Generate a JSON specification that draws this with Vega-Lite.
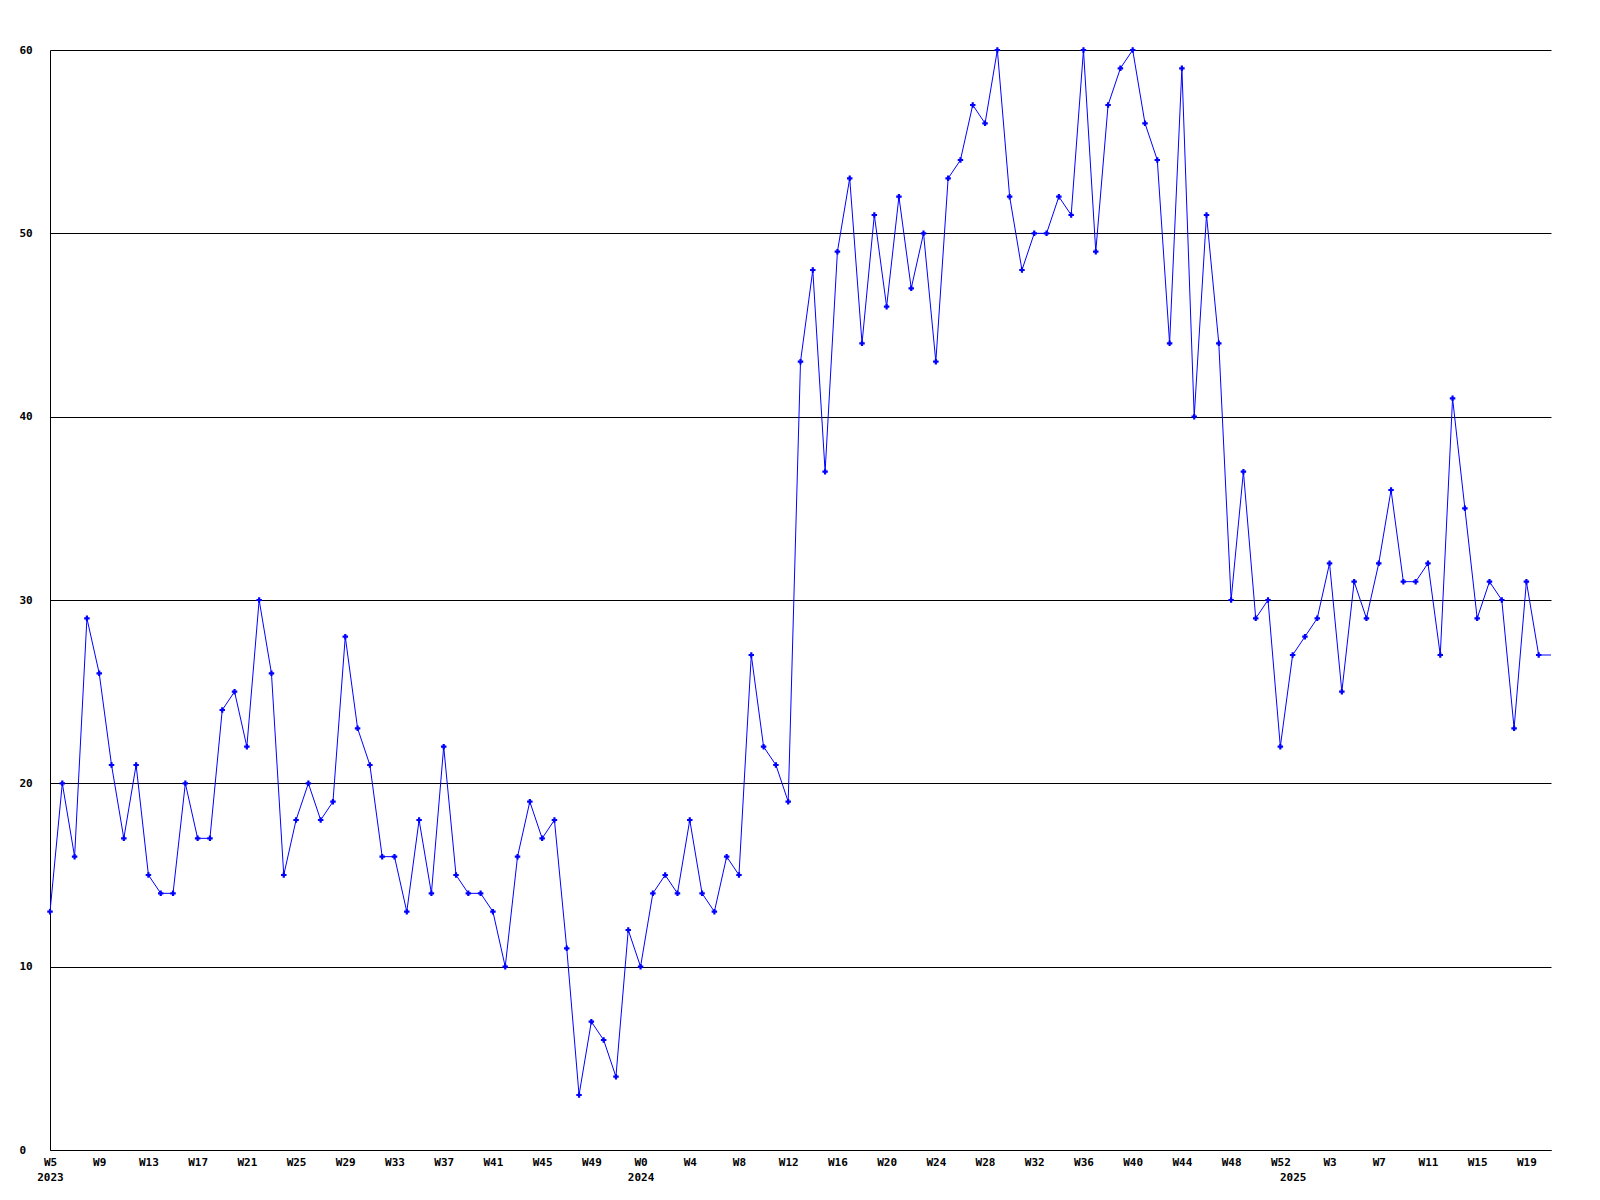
{
  "$schema": "https://vega.github.io/schema/vega-lite/v6.json",
  "width": 1501,
  "height": 1100,
  "autosize": {"type": "none"},
  "padding": {"left": 50, "top": 50, "right": 49, "bottom": 50},
  "background": "white",
  "config": {"view": {"stroke": null}, "font": "DejaVu Sans Mono"},
  "data": {
    "values": [
      {"k": "2023-W5", "v": 13}, {"k": "2023-W6", "v": 20}, {"k": "2023-W7", "v": 16}, {"k": "2023-W8", "v": 29},
      {"k": "2023-W9", "v": 26}, {"k": "2023-W10", "v": 21}, {"k": "2023-W11", "v": 17}, {"k": "2023-W12", "v": 21},
      {"k": "2023-W13", "v": 15}, {"k": "2023-W14", "v": 14}, {"k": "2023-W15", "v": 14}, {"k": "2023-W16", "v": 20},
      {"k": "2023-W17", "v": 17}, {"k": "2023-W18", "v": 17}, {"k": "2023-W19", "v": 24}, {"k": "2023-W20", "v": 25},
      {"k": "2023-W21", "v": 22}, {"k": "2023-W22", "v": 30}, {"k": "2023-W23", "v": 26}, {"k": "2023-W24", "v": 15},
      {"k": "2023-W25", "v": 18}, {"k": "2023-W26", "v": 20}, {"k": "2023-W27", "v": 18}, {"k": "2023-W28", "v": 19},
      {"k": "2023-W29", "v": 28}, {"k": "2023-W30", "v": 23}, {"k": "2023-W31", "v": 21}, {"k": "2023-W32", "v": 16},
      {"k": "2023-W33", "v": 16}, {"k": "2023-W34", "v": 13}, {"k": "2023-W35", "v": 18}, {"k": "2023-W36", "v": 14},
      {"k": "2023-W37", "v": 22}, {"k": "2023-W38", "v": 15}, {"k": "2023-W39", "v": 14}, {"k": "2023-W40", "v": 14},
      {"k": "2023-W41", "v": 13}, {"k": "2023-W42", "v": 10}, {"k": "2023-W43", "v": 16}, {"k": "2023-W44", "v": 19},
      {"k": "2023-W45", "v": 17}, {"k": "2023-W46", "v": 18}, {"k": "2023-W47", "v": 11}, {"k": "2023-W48", "v": 3},
      {"k": "2023-W49", "v": 7}, {"k": "2023-W50", "v": 6}, {"k": "2023-W51", "v": 4}, {"k": "2023-W52", "v": 12},
      {"k": "2024-W0", "v": 10}, {"k": "2024-W1", "v": 14}, {"k": "2024-W2", "v": 15}, {"k": "2024-W3", "v": 14},
      {"k": "2024-W4", "v": 18}, {"k": "2024-W5", "v": 14}, {"k": "2024-W6", "v": 13}, {"k": "2024-W7", "v": 16},
      {"k": "2024-W8", "v": 15}, {"k": "2024-W9", "v": 27}, {"k": "2024-W10", "v": 22}, {"k": "2024-W11", "v": 21},
      {"k": "2024-W12", "v": 19}, {"k": "2024-W13", "v": 43}, {"k": "2024-W14", "v": 48}, {"k": "2024-W15", "v": 37},
      {"k": "2024-W16", "v": 49}, {"k": "2024-W17", "v": 53}, {"k": "2024-W18", "v": 44}, {"k": "2024-W19", "v": 51},
      {"k": "2024-W20", "v": 46}, {"k": "2024-W21", "v": 52}, {"k": "2024-W22", "v": 47}, {"k": "2024-W23", "v": 50},
      {"k": "2024-W24", "v": 43}, {"k": "2024-W25", "v": 53}, {"k": "2024-W26", "v": 54}, {"k": "2024-W27", "v": 57},
      {"k": "2024-W28", "v": 56}, {"k": "2024-W29", "v": 60}, {"k": "2024-W30", "v": 52}, {"k": "2024-W31", "v": 48},
      {"k": "2024-W32", "v": 50}, {"k": "2024-W33", "v": 50}, {"k": "2024-W34", "v": 52}, {"k": "2024-W35", "v": 51},
      {"k": "2024-W36", "v": 60}, {"k": "2024-W37", "v": 49}, {"k": "2024-W38", "v": 57}, {"k": "2024-W39", "v": 59},
      {"k": "2024-W40", "v": 60}, {"k": "2024-W41", "v": 56}, {"k": "2024-W42", "v": 54}, {"k": "2024-W43", "v": 44},
      {"k": "2024-W44", "v": 59}, {"k": "2024-W45", "v": 40}, {"k": "2024-W46", "v": 51}, {"k": "2024-W47", "v": 44},
      {"k": "2024-W48", "v": 30}, {"k": "2024-W49", "v": 37}, {"k": "2024-W50", "v": 29}, {"k": "2024-W51", "v": 30},
      {"k": "2024-W52", "v": 22},
      {"k": "2025-W0", "v": 27}, {"k": "2025-W1", "v": 28}, {"k": "2025-W2", "v": 29}, {"k": "2025-W3", "v": 32},
      {"k": "2025-W4", "v": 25}, {"k": "2025-W5", "v": 31}, {"k": "2025-W6", "v": 29}, {"k": "2025-W7", "v": 32},
      {"k": "2025-W8", "v": 36}, {"k": "2025-W9", "v": 31}, {"k": "2025-W10", "v": 31}, {"k": "2025-W11", "v": 32},
      {"k": "2025-W12", "v": 27}, {"k": "2025-W13", "v": 41}, {"k": "2025-W14", "v": 35}, {"k": "2025-W15", "v": 29},
      {"k": "2025-W16", "v": 31}, {"k": "2025-W17", "v": 30}, {"k": "2025-W18", "v": 23}, {"k": "2025-W19", "v": 31},
      {"k": "2025-W20", "v": 27}, {"k": "2025-W21", "v": 27}
    ]
  },
  "encoding": {
    "x": {
      "field": "k",
      "type": "ordinal",
      "sort": null,
      "scale": {"type": "point", "padding": 0},
      "axis": {
        "title": null,
        "values": ["2023-W5", "2023-W9", "2023-W13", "2023-W17", "2023-W21", "2023-W25", "2023-W29", "2023-W33", "2023-W37", "2023-W41", "2023-W45", "2023-W49",
                   "2024-W0", "2024-W4", "2024-W8", "2024-W12", "2024-W16", "2024-W20", "2024-W24", "2024-W28", "2024-W32", "2024-W36", "2024-W40", "2024-W44", "2024-W48", "2024-W52",
                   "2025-W0", "2025-W3", "2025-W7", "2025-W11", "2025-W15", "2025-W19"],
        "labelExpr": "datum.value == '2023-W5' ? ['W5', '2023'] : datum.value == '2024-W0' ? ['W0', '2024'] : datum.value == '2025-W0' ? [' ', '2025'] : split(datum.value, '-')[1]",
        "labelAngle": 0,
        "labelAlign": "center",
        "labelBaseline": "top",
        "labelPadding": 6,
        "labelLineHeight": 15,
        "labelFont": "DejaVu Sans Mono",
        "labelFontWeight": "bold",
        "labelFontSize": 11,
        "labelColor": "black",
        "labelOverlap": false,
        "labelBound": false,
        "labelFlush": false,
        "ticks": false,
        "tickSize": 0,
        "grid": false,
        "domainColor": "black",
        "domainWidth": 1
      }
    },
    "y": {
      "field": "v",
      "type": "quantitative",
      "scale": {"domain": [0, 60], "nice": false, "zero": true},
      "axis": {
        "title": null,
        "values": [0, 10, 20, 30, 40, 50, 60],
        "grid": true,
        "gridColor": "black",
        "gridOpacity": 1,
        "gridWidth": 1,
        "domainColor": "black",
        "domainWidth": 1,
        "ticks": false,
        "tickSize": 0,
        "labelAlign": "left",
        "labelBaseline": "middle",
        "labelPadding": 31,
        "labelFont": "DejaVu Sans Mono",
        "labelFontWeight": "bold",
        "labelFontSize": 11,
        "labelColor": "black",
        "labelOverlap": false,
        "labelBound": false,
        "labelFlush": false
      }
    }
  },
  "layer": [
    {"mark": {"type": "line", "color": "#0000ff", "strokeWidth": 1}},
    {
      "transform": [{"filter": "datum.k != '2025-W21'"}],
      "mark": {"type": "point", "shape": "cross", "filled": true, "color": "#0000ff", "size": 30, "opacity": 1}
    }
  ]
}
